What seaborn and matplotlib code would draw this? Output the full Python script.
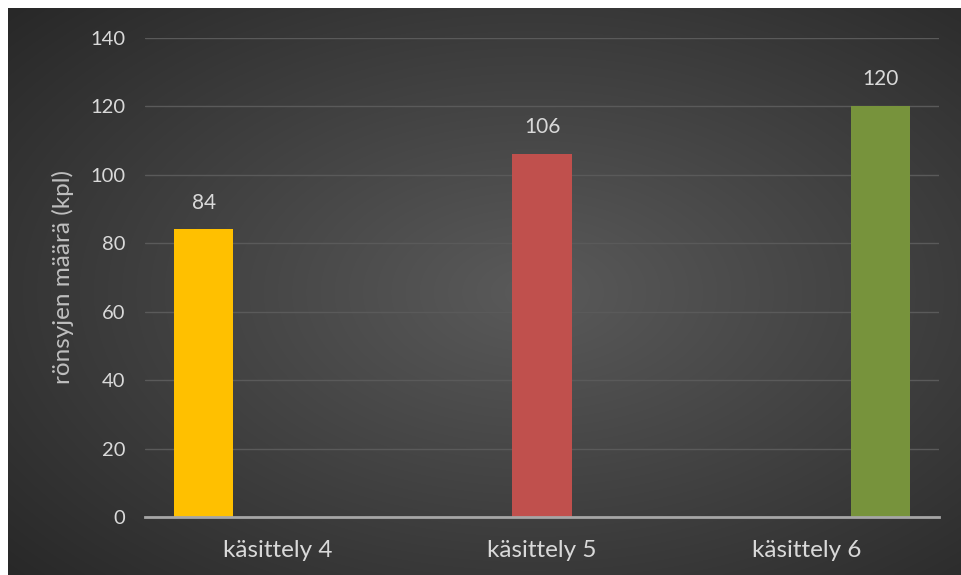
import numpy as np
import pandas as pd
import matplotlib
matplotlib.use("Agg")
import matplotlib.pyplot as plt
import seaborn as sns

# ---- data ----
categories = ["käsittely 4", "käsittely 5", "käsittely 6"]
series = ["käsittely 4", "käsittely 5", "käsittely 6"]
values = [84, 106, 120]
bar_colors = ["#FFC000", "#C0504D", "#77933C"]
y_ticks = [0, 20, 40, 60, 80, 100, 120, 140]
y_label = "rönsyjen määrä (kpl)"

df = pd.DataFrame({"kasittely": categories, "sarja": series, "maara": values})

sns.set_style("dark")
plt.rcParams["font.family"] = ["Lato", "DejaVu Sans"]

W, H = 961, 575
fig = plt.figure(figsize=(W / 100, H / 100), dpi=100, facecolor="white")

# background panel with radial gradient
bg = fig.add_axes([8 / W, 0, 1 - 8 / W, 1 - 8 / H])
bg.set_axis_off()
ny, nx = 300, 500
yy, xx = np.mgrid[0:ny, 0:nx]
cx, cy = nx * 0.55, ny * 0.5
r = np.sqrt(((xx - cx) / nx) ** 2 + ((yy - cy) / ny) ** 2)
r = r / r.max()
c = (90 - 50 * r) / 255.0
img = np.dstack([c, c, c])
bg.imshow(img, aspect="auto", extent=[0, 1, 0, 1], interpolation="bilinear")
bg.set_xlim(0, 1)
bg.set_ylim(0, 1)

ax = fig.add_axes([145 / W, 1 - 517.3 / H, (939 - 145) / W, (517.3 - 37.5) / H])
ax.set_facecolor("none")
ax.patch.set_alpha(0)

sns.barplot(data=df, x="kasittely", y="maara", hue="sarja",
            order=categories, hue_order=series, palette=bar_colors,
            width=0.836, gap=0.19, dodge=True, ax=ax, legend=False,
            saturation=1, zorder=3, linewidth=0, edgecolor="none",
            err_kws={"linewidth": 0})

ax.set_xlim(-0.5, 2.5)
ax.set_ylim(0, 140)
ax.set_yticks(y_ticks)
ax.set_yticklabels([str(t) for t in y_ticks])
ax.grid(axis="y", color="#5a5a5a", linewidth=1.0, zorder=0)
ax.grid(axis="x", visible=False)
for s in ["left", "right", "top"]:
    ax.spines[s].set_visible(False)
ax.spines["bottom"].set_color("#a6a6a6")
ax.spines["bottom"].set_linewidth(2)
ax.spines["bottom"].set_zorder(5)

ax.tick_params(axis="y", length=0, pad=14, labelsize=14.5, labelcolor="#d9d9d9")
ax.tick_params(axis="x", length=0, pad=16, labelsize=17.5, labelcolor="#d9d9d9")
ax.set_xlabel("")
ax.set_ylabel(y_label, fontsize=17.5, color="#bfbfbf", labelpad=12)

for cont in ax.containers:
    ax.bar_label(cont, fmt="%d", padding=12, fontsize=15, color="#d9d9d9")

fig.savefig("out.png", dpi=100, facecolor="white")
